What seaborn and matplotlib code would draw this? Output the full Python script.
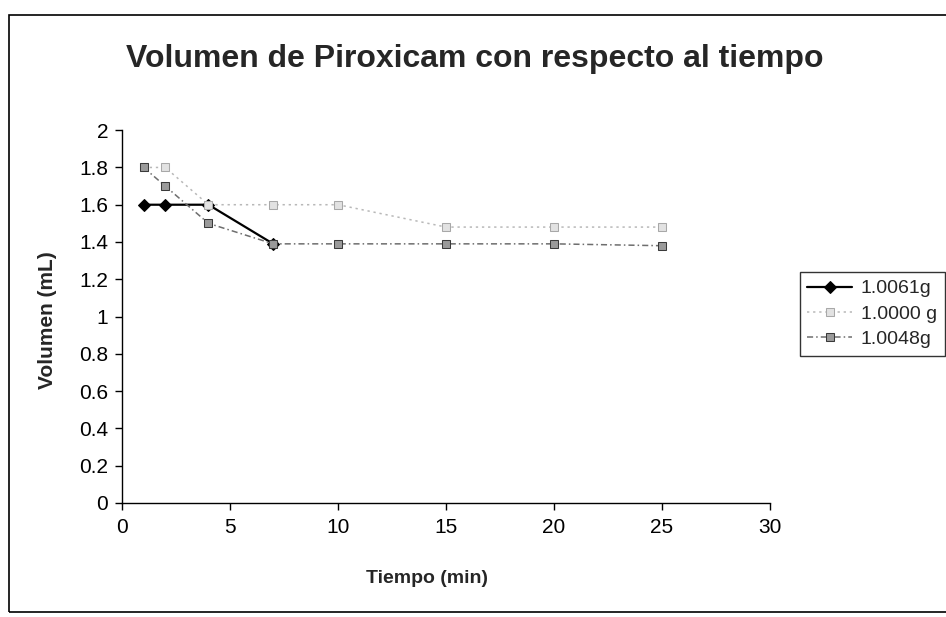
import matplotlib
matplotlib.use("Agg")
import matplotlib.pyplot as plt
import seaborn as sns
import pandas as pd
from matplotlib.patches import Rectangle

# Data
time_a = [1, 2, 4, 7]
vol_a = [1.6, 1.6, 1.6, 1.39]          # 1.0061g
time_b = [1, 2, 4, 7, 10, 15, 20, 25]
vol_b = [1.8, 1.8, 1.6, 1.6, 1.6, 1.48, 1.48, 1.48]   # 1.0000 g
time_c = [1, 2, 4, 7, 10, 15, 20, 25]
vol_c = [1.8, 1.7, 1.5, 1.39, 1.39, 1.39, 1.39, 1.38]  # 1.0048g
labels = ["1.0061g", "1.0000 g", "1.0048g"]

x_ticks = [0, 5, 10, 15, 20, 25, 30]
y_ticks = [0, 0.2, 0.4, 0.6, 0.8, 1, 1.2, 1.4, 1.6, 1.8, 2]
y_tick_labels = ["0", "0.2", "0.4", "0.6", "0.8", "1", "1.2", "1.4", "1.6", "1.8", "2"]

sns.set_style("ticks")
plt.rcParams["font.family"] = ["Liberation Sans", "DejaVu Sans"]

fig = plt.figure(figsize=(9.46, 6.17), dpi=100)
ax = fig.add_axes([0.129, 0.185, 0.685, 0.604])

df_a = pd.DataFrame({"t": time_a, "v": vol_a})
df_b = pd.DataFrame({"t": time_b, "v": vol_b})
df_c = pd.DataFrame({"t": time_c, "v": vol_c})

sns.lineplot(data=df_a, x="t", y="v", ax=ax, color="black", lw=1.6,
             marker="D", markersize=6, markeredgecolor="black", label=labels[0])
sns.lineplot(data=df_b, x="t", y="v", ax=ax, color="#b8b8b8", lw=1.1,
             linestyle=(0, (1.5, 2.5)), marker="s", markersize=5.5,
             markerfacecolor="#e2e2e2", markeredgecolor="#a8a8a8", label=labels[1])
sns.lineplot(data=df_c, x="t", y="v", ax=ax, color="#6e6e6e", lw=1.1,
             linestyle=(0, (4, 2, 1, 2)), marker="s", markersize=5.5,
             markerfacecolor="#9a9a9a", markeredgecolor="#3a3a3a", label=labels[2])

ax.set_xlim(0, 30)
ax.set_ylim(0, 2)
ax.set_xticks(x_ticks)
ax.set_yticks(y_ticks)
ax.set_yticklabels(y_tick_labels)
ax.tick_params(axis="both", labelsize=15, length=5, width=1, colors="black", direction="out")
ax.tick_params(axis="x", pad=6)
ax.tick_params(axis="y", pad=5)
for s in ["top", "right"]:
    ax.spines[s].set_visible(False)
for s in ["left", "bottom"]:
    ax.spines[s].set_color("black")
    ax.spines[s].set_linewidth(1)

ax.set_xlabel("Tiempo (min)", fontsize=14, fontweight="bold")
ax.xaxis.set_label_coords(0.47, -0.18)
ax.set_ylabel("Volumen (mL)", fontsize=15, fontweight="bold")
ax.yaxis.set_label_coords(-0.1, 0.49)

fig.text(0.502, 0.905, "Volumen de Piroxicam con respecto al tiempo",
         ha="center", va="center", fontsize=23, fontweight="bold")

leg = ax.legend(loc="upper left", bbox_to_anchor=(0.835, 0.575),
                bbox_transform=fig.transFigure, fontsize=14, frameon=True,
                fancybox=False, edgecolor="black", handlelength=2.3,
                borderpad=0.4, labelspacing=0.4, handletextpad=0.45)
leg.get_frame().set_linewidth(1)

fig.patches.append(Rectangle((0.009, 0.008), 1.2, 0.968, transform=fig.transFigure,
                             fill=False, edgecolor="black", lw=1.2))

fig.savefig("out.png", dpi=100)
